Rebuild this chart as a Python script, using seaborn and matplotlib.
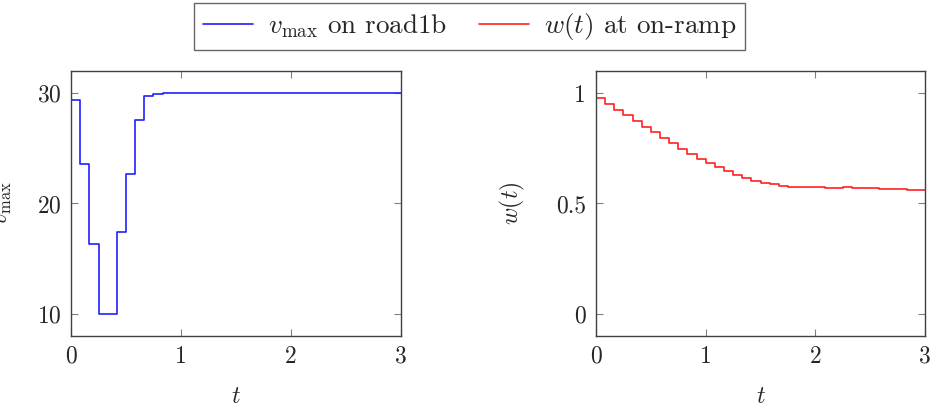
import numpy as np
import pandas as pd
import matplotlib
matplotlib.use("Agg")
import matplotlib.pyplot as plt
import seaborn as sns

# ---- data ----
step_times = np.linspace(0, 3, 37)  # step edges every 1/12
vmax_values = [29.4, 23.6, 16.3, 10.0, 10.0, 17.4, 22.7, 27.6, 29.7, 29.95,
               30.0, 30.0, 30.0, 30.0, 30.0, 30.0, 30.0, 30.0, 30.0, 30.0,
               30.0, 30.0, 30.0, 30.0, 30.0, 30.0, 30.0, 30.0, 30.0, 30.0,
               30.0, 30.0, 30.0, 30.0, 30.0, 30.05]
w_values = [0.977, 0.951, 0.925, 0.899, 0.873, 0.847, 0.822, 0.797, 0.772, 0.748,
            0.725, 0.703, 0.682, 0.663, 0.645, 0.629, 0.614, 0.602, 0.594, 0.586,
            0.580, 0.576, 0.574, 0.573, 0.573, 0.572, 0.572, 0.573, 0.572, 0.571,
            0.568, 0.566, 0.565, 0.564, 0.563, 0.562]
left_yticks = [10, 20, 30]
right_yticks = [0, 0.5, 1]
right_yticklabels = ["0", "0.5", "1"]
xticks = [0, 1, 2, 3]

df_v = pd.DataFrame({"t": step_times, "v": vmax_values + [vmax_values[-1]]})
df_w = pd.DataFrame({"t": step_times, "w": w_values + [w_values[-1]]})

sns.set_style("ticks")
plt.rcParams["font.family"] = ["cmr10", "DejaVu Serif"]
plt.rcParams["mathtext.fontset"] = "cm"
plt.rcParams["axes.formatter.use_mathtext"] = True

FS = 17
fig = plt.figure(figsize=(9.36, 4.11), dpi=100)
ax1 = fig.add_axes([0.0759, 0.1825, 0.3522, 0.6448])
ax2 = fig.add_axes([0.6368, 0.1825, 0.3515, 0.6448])

sns.lineplot(data=df_v, x="t", y="v", ax=ax1, color="#2020ff", lw=1.2,
             drawstyle="steps-post", label=r"$v_{\max}$ on road1b", legend=False)
sns.lineplot(data=df_w, x="t", y="w", ax=ax2, color="#ff2020", lw=1.2,
             drawstyle="steps-post", label=r"$w(t)$ at on-ramp", legend=False)

ax1.set_xlim(0, 3)
ax1.set_ylim(8, 32)
ax1.set_yticks(left_yticks)
ax2.set_xlim(0, 3)
ax2.set_ylim(-0.1, 1.1)
ax2.set_yticks(right_yticks)
ax2.set_yticklabels(right_yticklabels)

for ax in (ax1, ax2):
    ax.set_xticks(xticks)
    ax.set_xticklabels([str(x) for x in xticks])
    ax.tick_params(direction="in", top=True, right=True, length=5,
                   width=0.8, color="#808080", labelsize=FS, pad=7)
    for s in ax.spines.values():
        s.set_visible(True)
        s.set_linewidth(1.0)
        s.set_color("#404040")
    ax.set_xlabel(r"$t$", fontsize=FS)
    ax.xaxis.set_label_coords(0.5, -0.19)

ax1.set_ylabel(r"$v_{\max}$", fontsize=FS)
ax1.yaxis.set_label_coords(-0.173, 0.5)
ax2.set_ylabel(r"$w(t)$", fontsize=FS)
ax2.yaxis.set_label_coords(-0.21, 0.5)

h1, l1 = ax1.get_legend_handles_labels()
h2, l2 = ax2.get_legend_handles_labels()
leg = fig.legend(h1 + h2, l1 + l2, loc="upper center", bbox_to_anchor=(0.502, 0.993),
                 ncol=2, frameon=True, fancybox=False, fontsize=19.5,
                 handlelength=1.85, handletextpad=0.55, columnspacing=1.2,
                 borderpad=0.3, borderaxespad=0.0)
leg.get_frame().set_edgecolor("#404040")
leg.get_frame().set_linewidth(1.0)

fig.savefig("out.png", dpi=100)
